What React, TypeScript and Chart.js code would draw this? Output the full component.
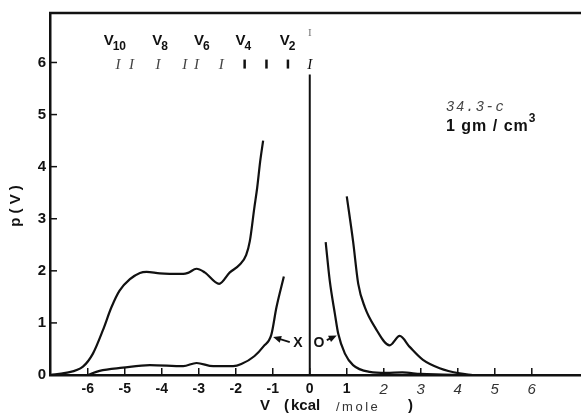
import React, { useEffect, useRef } from 'react';
import { Chart, registerables } from 'chart.js';

Chart.register(...registerables);

// axis ticks
const xTicks = [-6, -5, -4, -3, -2, -1, 0, 1, 2, 3, 4, 5, 6];
const yTicks = [0, 1, 2, 3, 4, 5, 6];

// p(V) curves, [V, p]
const leftScaled: [number, number][] = [
  [-7.02, 0], [-6.6, 0.04], [-6.13, 0.16], [-5.86, 0.41], [-5.59, 0.86], [-5.36, 1.3],
  [-5.14, 1.62], [-4.86, 1.84], [-4.59, 1.96], [-4.41, 1.98], [-4.05, 1.95], [-3.42, 1.94],
  [-3.29, 1.96], [-3.06, 2.04], [-2.84, 1.97], [-2.45, 1.75], [-2.16, 1.97], [-1.89, 2.12],
  [-1.72, 2.3], [-1.62, 2.57], [-1.5, 3.2], [-1.42, 3.6], [-1.34, 4.1], [-1.26, 4.5],
];
const leftRaw: [number, number][] = [
  [-6.0, 0], [-5.68, 0.08], [-5.05, 0.14], [-4.32, 0.19], [-3.42, 0.17], [-3.06, 0.23],
  [-2.61, 0.17], [-2.07, 0.17], [-1.85, 0.21], [-1.5, 0.36], [-1.25, 0.55], [-1.04, 0.77],
  [-0.9, 1.3], [-0.7, 1.89],
];
const rightScaled: [number, number][] = [
  [1.0, 3.43], [1.17, 2.57], [1.31, 1.75], [1.49, 1.3], [1.76, 0.92], [2.16, 0.57],
  [2.43, 0.75], [2.7, 0.54], [3.06, 0.29], [3.51, 0.13], [4.05, 0.03], [4.4, 0],
];
const rightRaw: [number, number][] = [
  [0.43, 2.55], [0.54, 1.81], [0.68, 1.17], [0.77, 0.79], [0.95, 0.41], [1.17, 0.19],
  [1.62, 0.06], [2.07, 0.04], [2.5, 0.05], [3.0, 0.02], [3.6, 0.01], [4.2, 0],
];
const zeroLine: [number, number][] = [[0, 0], [0, 5.77]];

// level markers along the top
const levelLabels = ['10', '8', '6', '4', '2'];
const levelLabelX = [-5.57, -4.26, -3.13, -2.01, -0.81];
const romanMarks = [-5.18, -4.82, -4.1, -3.38, -3.06, -2.39];
const barMarks = [-1.76, -1.17, -0.59];
const markRowY = 5.96;

const ink = '#111';
const sans = '"Liberation Sans", Arial, sans-serif';

const toXY = (pts: [number, number][]) => pts.map(([x, y]) => ({ x, y }));

const arrow = (ctx: CanvasRenderingContext2D, x0: number, y0: number, x1: number, y1: number) => {
  const a = Math.atan2(y1 - y0, x1 - x0);
  ctx.beginPath();
  ctx.moveTo(x0, y0);
  ctx.lineTo(x1 - 4 * Math.cos(a), y1 - 4 * Math.sin(a));
  ctx.stroke();
  ctx.beginPath();
  ctx.moveTo(x1, y1);
  ctx.lineTo(x1 - 8 * Math.cos(a) + 3.5 * Math.sin(a), y1 - 8 * Math.sin(a) - 3.5 * Math.cos(a));
  ctx.lineTo(x1 - 8 * Math.cos(a) - 3.5 * Math.sin(a), y1 - 8 * Math.sin(a) + 3.5 * Math.cos(a));
  ctx.closePath();
  ctx.fill();
};

const decorations = {
  id: 'decorations',
  afterDraw(chart: any) {
    const { ctx, chartArea } = chart;
    const px = (v: number) => chart.scales.x.getPixelForValue(v);
    const py = (v: number) => chart.scales.y.getPixelForValue(v);
    ctx.save();
    ctx.strokeStyle = ink;
    ctx.fillStyle = ink;

    // top frame line
    ctx.lineWidth = 2.5;
    ctx.beginPath();
    ctx.moveTo(chartArea.left - 1, chartArea.top);
    ctx.lineTo(chartArea.right, chartArea.top);
    ctx.stroke();

    // inward ticks
    ctx.lineWidth = 1.5;
    xTicks.forEach((v) => {
      ctx.beginPath();
      ctx.moveTo(px(v), chartArea.bottom);
      ctx.lineTo(px(v), chartArea.bottom - 7);
      ctx.stroke();
    });
    yTicks.forEach((v) => {
      ctx.beginPath();
      ctx.moveTo(chartArea.left, py(v));
      ctx.lineTo(chartArea.left + 7, py(v));
      ctx.stroke();
    });

    // V_n labels
    ctx.textBaseline = 'middle';
    ctx.textAlign = 'left';
    levelLabels.forEach((lab, i) => {
      const x = px(levelLabelX[i]);
      ctx.font = `bold 15px ${sans}`;
      ctx.fillText('V', x, 41);
      const w = ctx.measureText('V').width;
      ctx.font = `bold 12px ${sans}`;
      ctx.fillText(lab, x + w - 1, 47);
    });

    // marker row
    ctx.textAlign = 'center';
    ctx.fillStyle = '#444';
    ctx.font = `italic 15px "Liberation Serif", serif`;
    romanMarks.forEach((v) => ctx.fillText('I', px(v), py(markRowY)));
    ctx.fillStyle = ink;
    ctx.fillText('I', px(0), py(markRowY));
    ctx.fillStyle = '#777';
    ctx.font = `11px "Liberation Serif", serif`;
    ctx.fillText('I', px(0), py(6.57));
    ctx.lineWidth = 2.5;
    barMarks.forEach((v) => {
      ctx.beginPath();
      ctx.moveTo(px(v), py(markRowY) - 5);
      ctx.lineTo(px(v), py(markRowY) + 4);
      ctx.stroke();
    });

    // x10 annotation
    ctx.fillStyle = ink;
    ctx.strokeStyle = ink;
    ctx.lineWidth = 1.8;
    ctx.font = `bold 14px ${sans}`;
    ctx.fillText('X', px(-0.32), py(0.61));
    ctx.fillText('O', px(0.25), py(0.61));
    arrow(ctx, px(-0.54), py(0.63), px(-0.99), py(0.73));
    arrow(ctx, px(0.46), py(0.67), px(0.73), py(0.76));

    // state label
    ctx.textAlign = 'left';
    ctx.fillStyle = '#444';
    ctx.font = `italic 14px "Liberation Mono", monospace`;
    (ctx as any).letterSpacing = '1.5px';
    ctx.fillText('34.3-c', 446, 107);
    ctx.fillStyle = ink;
    ctx.font = `bold 16px ${sans}`;
    (ctx as any).letterSpacing = '1px';
    ctx.fillText('1 gm / cm', 446, 127);
    const gw = ctx.measureText('1 gm / cm').width;
    ctx.font = `bold 12px ${sans}`;
    ctx.fillText('3', 446 + gw, 119);

    // x title
    ctx.font = `bold 15px ${sans}`;
    (ctx as any).letterSpacing = '0px';
    ctx.fillText('V', 260, 406);
    ctx.fillText('(', 284, 406);
    ctx.fillText('kcal', 291, 406);
    ctx.fillText(')', 408, 406);
    ctx.font = `13px ${sans}`;
    ctx.fillStyle = '#333';
    (ctx as any).letterSpacing = '2.5px';
    ctx.fillText('/mole', 336, 407);
    (ctx as any).letterSpacing = '0px';

    // y title
    ctx.save();
    ctx.translate(16, 206);
    ctx.rotate(-Math.PI / 2);
    ctx.textAlign = 'center';
    ctx.fillStyle = ink;
    ctx.font = `bold 15px ${sans}`;
    ctx.fillText('p ( V )', 0, 0);
    ctx.restore();

    ctx.restore();
  },
};

const lineStyle = {
  borderColor: ink,
  borderWidth: 2.2,
  pointRadius: 0,
  fill: false,
  cubicInterpolationMode: 'monotone' as const,
};

export default function App() {
  const canvasRef = useRef<HTMLCanvasElement>(null);

  useEffect(() => {
    const chart = new Chart(canvasRef.current!, {
      type: 'line',
      data: {
        datasets: [
          { ...lineStyle, data: toXY(leftScaled) },
          { ...lineStyle, data: toXY(leftRaw) },
          { ...lineStyle, data: toXY(rightScaled) },
          { ...lineStyle, data: toXY(rightRaw) },
          { ...lineStyle, borderWidth: 2, cubicInterpolationMode: 'default', tension: 0, data: toXY(zeroLine) },
        ],
      },
      options: {
        animation: false,
        responsive: true,
        maintainAspectRatio: false,
        layout: { padding: { top: 10, left: 0, right: 0, bottom: 0 } },
        plugins: { legend: { display: false }, tooltip: { enabled: false } },
        scales: {
          x: {
            type: 'linear',
            min: -7.02,
            max: 7.33,
            afterBuildTicks: (scale: any) => {
              scale.ticks = xTicks.map((value) => ({ value }));
            },
            afterFit: (scale: any) => {
              scale.height = 41;
            },
            grid: { display: true, drawOnChartArea: false, drawTicks: false },
            border: { display: true, color: ink, width: 2.5 },
            ticks: {
              padding: 6,
              color: (c: any) => (c.tick && c.tick.value >= 2 ? '#333' : ink),
              font: (c: any) =>
                c.tick && c.tick.value >= 2
                  ? { family: sans, size: 15, style: 'italic', weight: 'normal' }
                  : { family: sans, size: 14, weight: 'bold' },
              maxRotation: 0,
              autoSkip: false,
            },
          },
          y: {
            type: 'linear',
            min: 0,
            max: 6.95,
            afterBuildTicks: (scale: any) => {
              scale.ticks = yTicks.map((value) => ({ value }));
            },
            afterFit: (scale: any) => {
              scale.width = 50;
            },
            grid: { display: true, drawOnChartArea: false, drawTicks: false },
            border: { display: true, color: ink, width: 2.5 },
            ticks: {
              padding: 4,
              color: ink,
              font: { family: sans, size: 15, weight: 'bold' },
            },
          },
        },
      },
      plugins: [decorations],
    });

    return () => chart.destroy();
  }, []);

  return (
    <div style={{ position: 'absolute', left: 0, top: 0, width: 581, height: 416, background: '#fff' }}>
      <canvas ref={canvasRef} />
    </div>
  );
}
